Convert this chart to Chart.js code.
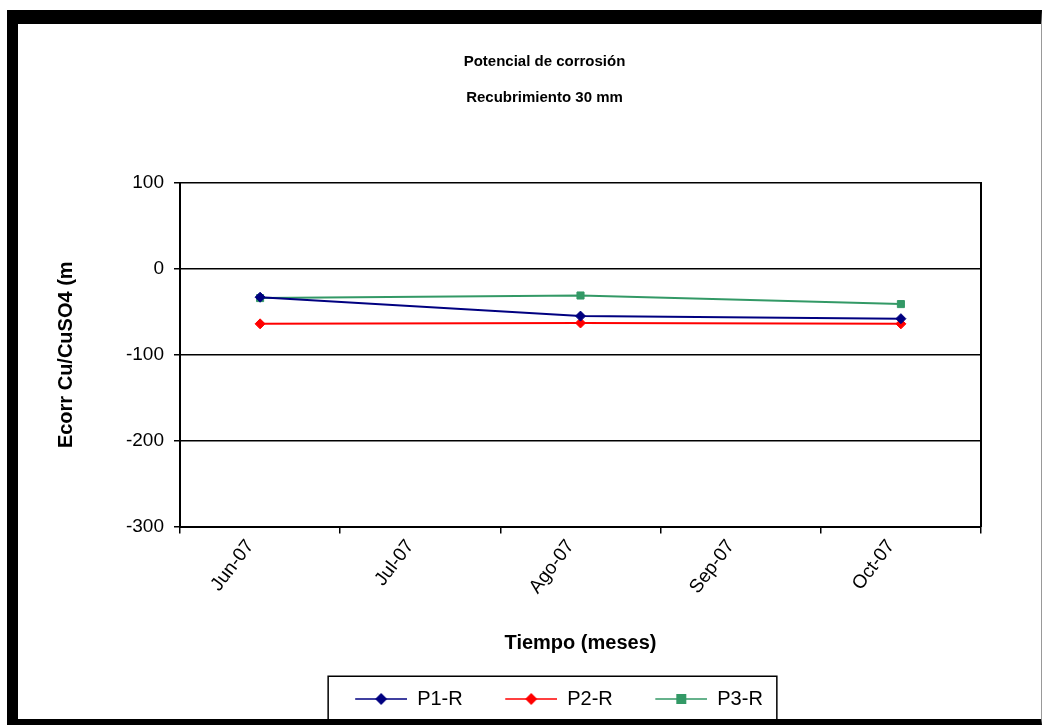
<!DOCTYPE html>
<html>
<head>
<meta charset="utf-8">
<script src="https://cdn.jsdelivr.net/npm/chart.js@4.4.0/dist/chart.umd.min.js"></script>
<style>
  html, body { margin: 0; padding: 0; background: #fff; }
  #frame {
    position: absolute; left: 7px; top: 10px;
    width: 1023px; height: 695px;
    border-left: 11px solid #000; border-top: 14px solid #000;
    border-bottom: 6px solid #000; border-right: 1px solid #999;
  }
  #frame canvas { display: block; }
</style>
</head>
<body>
<div id="frame"><canvas id="chart-potencial" width="1023" height="695"></canvas></div>
<script>
const meses = ['Jun-07', 'Jul-07', 'Ago-07', 'Sep-07', 'Oct-07'];
const p1R = [-33, null, -55, null, -58];
const p2R = [-64, null, -63, null, -64];
const p3R = [-34, null, -31, null, -41];
const yMin = -300;
const yMax = 100;
const yStep = 100;

const FONT = "'Liberation Sans', Arial, sans-serif";
const NAVY = '#000080';
const RED = '#FF0000';
const GREEN = '#339966';

// line + marker swatch for the legend (line sits at the right of the box)
function legendMark(color, style) {
  const c = document.createElement('canvas');
  c.width = 81;
  c.height = 14;
  const g = c.getContext('2d');
  g.strokeStyle = color;
  g.lineWidth = 1.5;
  g.beginPath();
  g.moveTo(29, 7);
  g.lineTo(81, 7);
  g.stroke();
  g.fillStyle = color;
  if (style === 'rect') {
    g.fillRect(50, 2, 10, 10);
  } else {
    g.beginPath();
    g.moveTo(55, 1);
    g.lineTo(61, 7);
    g.lineTo(55, 13);
    g.lineTo(49, 7);
    g.closePath();
    g.fill();
  }
  return c;
}
const marks = [legendMark(NAVY, 'rectRot'), legendMark(RED, 'rectRot'), legendMark(GREEN, 'rect')];

const legendBox = {
  id: 'legendBox',
  afterDraw(chart) {
    const boxes = chart.legend.legendHitBoxes;
    if (!boxes || !boxes.length) return;
    const first = boxes[0];
    const last = boxes[boxes.length - 1];
    const ctx = chart.ctx;
    ctx.save();
    ctx.strokeStyle = '#000';
    ctx.lineWidth = 1.5;
    ctx.strokeRect(first.left + 2, chart.legend.top + 0.75,
      last.left + last.width - first.left + 12, chart.legend.height + 10);
    ctx.restore();
  }
};

const ctx = document.getElementById('chart-potencial').getContext('2d');
new Chart(ctx, {
  type: 'line',
  data: {
    labels: meses,
    datasets: [
      {
        label: 'P1-R',
        data: p1R,
        borderColor: NAVY,
        backgroundColor: NAVY,
        pointStyle: 'rectRot',
      },
      {
        label: 'P2-R',
        data: p2R,
        borderColor: RED,
        backgroundColor: RED,
        pointStyle: 'rectRot',
      },
      {
        label: 'P3-R',
        data: p3R,
        borderColor: GREEN,
        backgroundColor: GREEN,
        pointStyle: 'rect',
      },
    ],
  },
  options: {
    responsive: false,
    animation: false,
    spanGaps: true,
    elements: {
      line: { borderWidth: 2, tension: 0 },
      point: { radius: 5, borderWidth: 1 },
    },
    layout: { padding: { left: 30, right: 0, top: 0, bottom: 0 } },
    plugins: {
      tooltip: { enabled: false },
      title: {
        display: true,
        text: ['Potencial de corrosión', 'Recubrimiento 30 mm'],
        color: '#000',
        font: { family: FONT, size: 15, weight: 'bold', lineHeight: 2.4 },
        padding: { top: 20, bottom: 67 },
      },
      legend: {
        position: 'bottom',
        labels: {
          color: '#000',
          font: { family: FONT, size: 20 },
          usePointStyle: true,
          pointStyleWidth: 81,
          padding: 13.5,
          generateLabels(chart) {
            return Chart.defaults.plugins.legend.labels.generateLabels(chart)
              .map((item, i) => Object.assign(item, { pointStyle: marks[i] }));
          },
        },
      },
    },
    scales: {
      x: {
        offset: true,
        afterFit(scale) { scale.height = 149; },
        ticks: {
          color: '#000',
          font: { family: FONT, size: 19 },
          minRotation: 53,
          maxRotation: 53,
          padding: 2,
          labelOffset: -10,
        },
        grid: {
          offset: true,
          drawOnChartArea: false,
          color: '#000',
          lineWidth: 1.5,
          tickLength: 7,
        },
        border: { color: '#000', width: 2 },
        title: {
          display: true,
          text: 'Tiempo (meses)',
          color: '#000',
          font: { family: FONT, size: 20, weight: 'bold' },
          padding: { top: 4, bottom: 20 },
        },
      },
      y: {
        min: yMin,
        max: yMax,
        afterFit(scale) { scale.width = 132; },
        ticks: {
          stepSize: yStep,
          color: '#000',
          font: { family: FONT, size: 19 },
          padding: 10,
        },
        grid: { color: '#000', lineWidth: 1.5, tickLength: 6 },
        border: { color: '#000', width: 2 },
        title: {
          display: true,
          text: 'Ecorr Cu/CuSO4 (m',
          color: '#000',
          font: { family: FONT, size: 20, weight: 'bold' },
          padding: { top: 6, bottom: 4 },
        },
      },
      y2: {
        position: 'right',
        display: true,
        afterFit(scale) { scale.width = 60; },
        ticks: { display: false },
        grid: { display: false },
        border: { color: '#000', width: 2 },
      },
    },
  },
  plugins: [legendBox],
});
</script>
</body>
</html>
